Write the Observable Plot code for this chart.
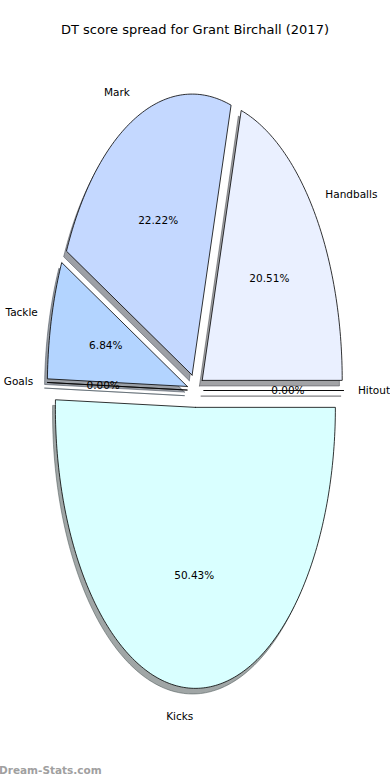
<!DOCTYPE html>
<html><head><meta charset="utf-8">
<script src="https://cdn.jsdelivr.net/npm/d3@7"></script>
<script src="https://cdn.jsdelivr.net/npm/@observablehq/plot@0.6"></script>
<style>
body{margin:0;background:#fff;}
#wrap{position:relative;width:390px;height:780px;overflow:hidden;font-family:"DejaVu Sans",sans-serif;background:#fff;}
#chart{position:absolute;top:0;left:0;}
#title{position:absolute;top:21px;left:0;width:390px;text-align:center;font-size:13px;line-height:18px;color:#000;}
#wm{position:absolute;left:-1px;top:763px;font-size:10.5px;line-height:14px;font-weight:bold;color:#a0a0a0;}
</style></head><body>
<div id="wrap"><div id="chart"></div><div id="title">DT score spread for Grant Birchall (2017)</div><div id="wm">Dream-Stats.com</div></div>
<script>
// ---- data ----
const labels = ["Handballs", "Mark", "Tackle", "Goals", "Kicks", "Hitout"];
const values = [20.51, 22.22, 6.84, 0, 50.43, 0];
const palette = ["#eaf0ff", "#c4d8ff", "#b3d4ff", "#b0e0ff", "#d9ffff", "#f0f8ff"];

// ---- pie options (matplotlib-like) ----
const explode = 0.06, shadowOffset = 0.02, labelDistance = 1.1, pctDistance = 0.6;

// ---- layout (pixels) ----
const W = 390, H = 780, CX = 195, CY = 390, RX = 140, RY = 281;

const total = d3.sum(values);
let acc = 0;
const wedges = labels.map((label, i) => {
  const a0 = acc / total * 360; acc += values[i]; const a1 = acc / total * 360;
  const m = (a0 + a1) / 2 * Math.PI / 180;
  const ox = explode * Math.cos(m), oy = explode * Math.sin(m);
  const n = Math.max(1, Math.ceil(a1 - a0));
  const pts = [[ox, oy]];
  for (let k = 0; k <= n; k++) {
    const t = (a0 + (a1 - a0) * k / n) * Math.PI / 180;
    pts.push([ox + Math.cos(t), oy + Math.sin(t)]);
  }
  pts.push([ox, oy]);
  const c = d3.rgb(palette[i]);
  const shadow = d3.rgb(c.r * 0.3, c.g * 0.3, c.b * 0.3).formatHex();
  return {
    label, value: values[i], color: palette[i], shadow, m, pts,
    lx: ox + labelDistance * Math.cos(m), ly: oy + labelDistance * Math.sin(m),
    px: ox + pctDistance * Math.cos(m), py: oy + pctDistance * Math.sin(m),
    pct: values[i].toFixed(2) + "%"
  };
});

const marks = [];
for (const w of wedges) {
  marks.push(Plot.line(w.pts, {
    x: d => d[0] - shadowOffset, y: d => d[1] - shadowOffset,
    fill: w.shadow, fillOpacity: 0.5, stroke: w.shadow, strokeOpacity: 0.5,
    strokeWidth: 1, strokeLinejoin: "miter", curve: "linear"
  }));
}
for (const w of wedges) {
  marks.push(Plot.line(w.pts, {
    x: d => d[0], y: d => d[1],
    fill: w.color, stroke: "#000", strokeWidth: 0.8, strokeLinejoin: "miter", curve: "linear"
  }));
}
const textOpts = {fontFamily: "DejaVu Sans", fontSize: 10.5, fill: "#000"};
marks.push(Plot.text(wedges.filter(w => Math.cos(w.m) > 0), {x: "lx", y: "ly", text: "label", textAnchor: "start", ...textOpts}));
marks.push(Plot.text(wedges.filter(w => Math.cos(w.m) <= 0), {x: "lx", y: "ly", text: "label", textAnchor: "end", ...textOpts}));
marks.push(Plot.text(wedges, {x: "px", y: "py", text: "pct", textAnchor: "middle", ...textOpts}));

const chart = Plot.plot({
  width: W, height: H,
  marginTop: 0, marginRight: 0, marginBottom: 0, marginLeft: 0,
  x: {domain: [-CX / RX, (W - CX) / RX], axis: null},
  y: {domain: [-(H - CY) / RY, CY / RY], axis: null},
  style: {background: "transparent", overflow: "visible"},
  marks
});
document.getElementById("chart").appendChild(chart);
</script>
</body></html>
